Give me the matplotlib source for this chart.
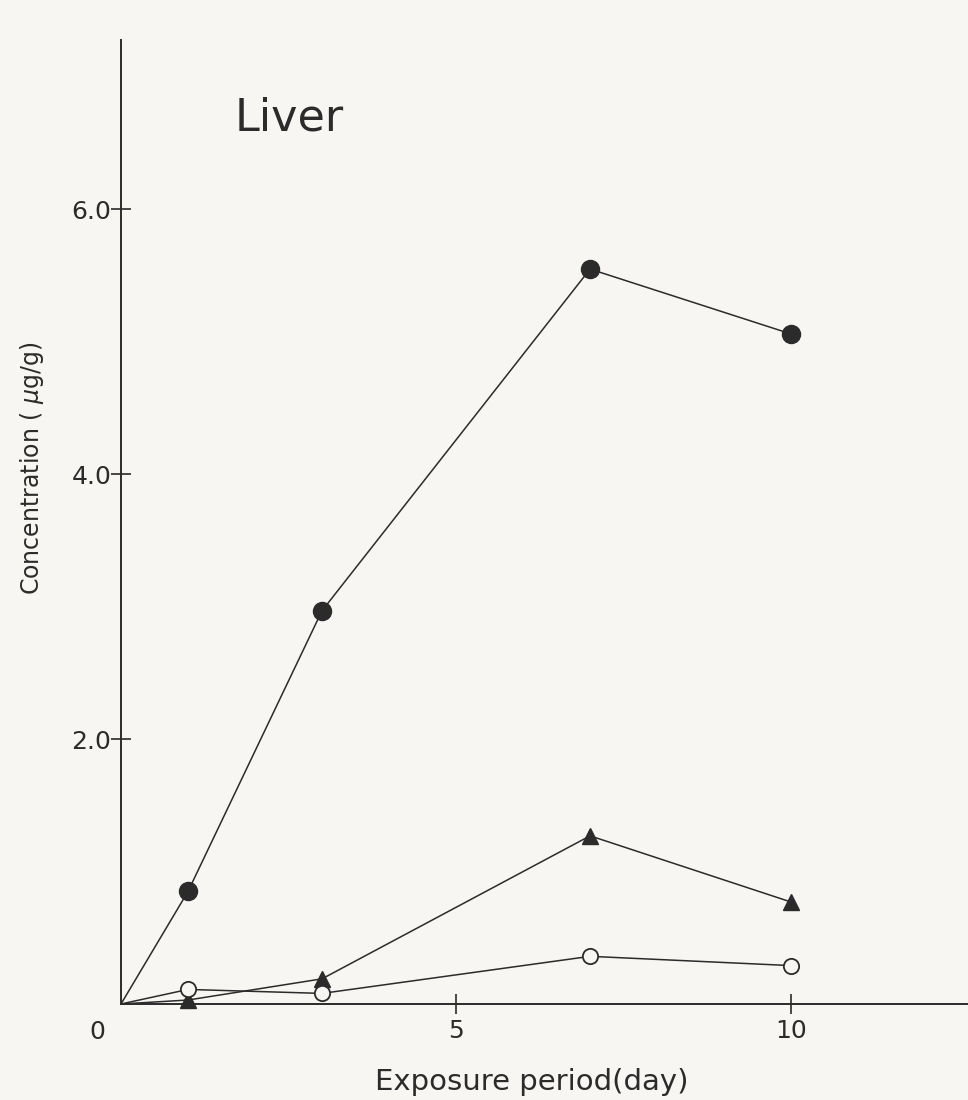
import matplotlib
matplotlib.use('Agg')
import matplotlib.pyplot as plt

# exposure days and liver concentrations (ug/g), origin included
days = [0, 1, 3, 7, 10]
filled_circle = [0, 0.85, 2.97, 5.55, 5.06]
filled_triangle = [0, 0.03, 0.19, 1.27, 0.77]
open_circle = [0, 0.11, 0.08, 0.36, 0.29]

ytick_vals = [2.0, 4.0, 6.0]
ytick_labels = ['2.0', '4.0', '6.0']
xtick_vals = [5, 10]
xtick_labels = ['5', '10']

bg = '#f8f6f3'
ink = '#2b2b2b'
plt.rcParams['font.family'] = ['DejaVu Sans']

fig = plt.figure(figsize=(9.68, 11), dpi=100, facecolor=bg)
ax = fig.add_axes([121/968, 96/1100, (968-121)/968, (1004-40)/1100])
ax.set_facecolor(bg)

# lines start at the origin, markers only on measured days
ax.plot(days, filled_circle, '-', color=ink, lw=1.1, clip_on=False, zorder=2)
ax.plot(days[1:], filled_circle[1:], ' ', marker='o', ms=13,
        mfc=ink, mec=ink, clip_on=False, zorder=3)
ax.plot(days, filled_triangle, '-', color=ink, lw=1.1, clip_on=False, zorder=2)
ax.plot(days[1:], filled_triangle[1:], ' ', marker='^', ms=12,
        mfc=ink, mec=ink, clip_on=False, zorder=3)
ax.plot(days, open_circle, '-', color=ink, lw=1.1, clip_on=False, zorder=2)
ax.plot(days[1:], open_circle[1:], ' ', marker='o', ms=11, mfc=bg,
        mec=ink, mew=1.3, clip_on=False, zorder=4)

ax.set_xlim(0, 12.64)
ax.set_ylim(0, 7.28)
for s in ['top', 'right']:
    ax.spines[s].set_visible(False)
for s in ['left', 'bottom']:
    ax.spines[s].set_linewidth(1.4)
    ax.spines[s].set_color(ink)

ax.set_yticks(ytick_vals)
ax.set_yticklabels(ytick_labels)
ax.set_xticks(xtick_vals)
ax.set_xticklabels(xtick_labels)
ax.tick_params(direction='inout', length=14, width=1.2, color=ink,
               labelsize=18, labelcolor=ink)
ax.tick_params(axis='y', pad=0)
ax.tick_params(axis='x', pad=4)

ax.text(-0.35, -0.12, '0', fontsize=18, color=ink, ha='center', va='top')
ax.text(1.7, 6.69, 'Liver', fontsize=32, color=ink, ha='left', va='center')

fig.text(532/968, 1 - 1082/1100, 'Exposure period(day)', fontsize=21,
         color=ink, ha='center', va='center')
fig.text(32/968, 1 - 468/1100, r'Concentration ( $\mu$g/g)', fontsize=17,
         color=ink, ha='center', va='center', rotation=90)

fig.savefig('out.png', dpi=100, facecolor=bg)
